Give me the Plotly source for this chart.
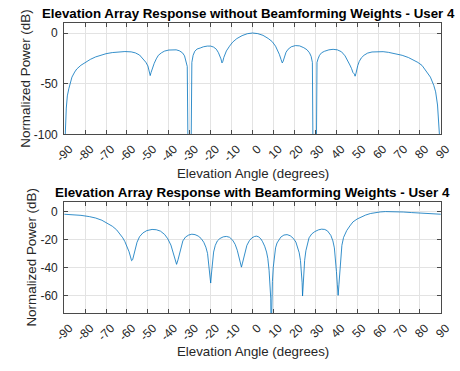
import plotly.graph_objects as go

# ---------------- data ----------------
angle_without = [
    -90.0, -89.5, -89.0, -88.5, -87.8, -87.0, -86.3, -85.0, -84.0, -82.0,
    -80.0, -77.5, -75.0, -72.5, -70.0, -67.0, -64.0, -61.0, -58.0, -56.0,
    -54.0, -52.5, -51.0, -50.0, -49.3, -48.9, -48.5, -47.9, -47.0, -46.0,
    -45.0, -43.5, -42.0, -40.0, -38.0, -36.5, -35.0, -33.5, -32.5, -31.8,
    -31.2, -30.7, -29.5, -29.0, -28.4, -27.6, -26.5, -25.0, -23.5, -21.6,
    -20.0, -18.6, -17.3, -16.3, -15.6, -15.1, -14.6, -14.2, -13.7, -13.0,
    -12.5, -11.0, -9.5, -7.5, -5.0, -2.5, 0.0, 2.5, 5.0, 7.5,
    9.4, 11.0, 12.0, 12.8, 13.6, 14.2, 14.6, 15.2, 16.0, 17.0,
    18.5, 20.5, 22.5, 24.5, 26.0, 27.2, 28.0, 28.6, 29.0, 30.4,
    30.8, 31.3, 32.0, 33.0, 34.4, 36.5, 38.5, 40.5, 42.5, 44.2,
    45.5, 46.5, 47.3, 48.0, 48.7, 49.0, 49.4, 49.8, 50.3, 51.0,
    52.0, 53.3, 55.0, 57.1, 60.0, 62.4, 65.0, 68.4, 71.5, 74.5,
    77.0, 79.0, 81.0, 83.5, 85.0, 86.6, 87.5, 88.4, 89.0, 89.3,
    90.0,
]
power_without = [
    -200, -100, -74, -62, -55, -48, -43.5, -38.5, -35.5, -31.8,
    -29, -26, -23.6, -21.8, -20.4, -19.3, -18.6, -18.3, -18.6, -19.6,
    -21.7, -24.8, -28.8, -32.5, -38, -42, -39, -35, -30, -25.5,
    -22, -19.5, -17.8, -16.8, -16.3, -16.6, -17.5, -19.5, -22.5, -27,
    -33, -150, -150, -29, -22, -18, -15.8, -14.8, -13.6, -12.9,
    -12.9, -13.9, -16, -19.4, -22.5, -25.5, -29.5, -28, -24, -19.5,
    -17.7, -13, -9, -5.5, -2.6, -0.7, 0, -0.6, -2.3, -5.4,
    -8.5, -13, -17, -21, -26, -29.5, -28, -23.5, -19, -16,
    -13.6, -12.4, -12.7, -14.5, -16.5, -19.5, -23, -29, -150, -150,
    -29, -25.5, -22, -19.5, -18, -16.6, -16.1, -16.6, -18.5, -22.5,
    -27, -31.5, -35, -39, -40.5, -42.6, -40, -35, -32, -28,
    -24.5, -21.9, -19.8, -18.7, -18.3, -18.4, -19.1, -20.3, -22, -24.2,
    -26.5, -29, -32, -38.7, -43.5, -51.6, -58, -71, -85, -100,
    -200,
]

angle_with = [
    -90.0, -86.0, -82.0, -78.0, -75.0, -72.0, -69.0, -67.0, -65.0, -63.5,
    -62.0, -61.0, -60.0, -59.0, -58.3, -57.8, -57.3, -56.7, -56.0, -55.2,
    -54.0, -52.4, -50.5, -48.0, -46.0, -44.0, -42.0, -40.5, -39.0, -38.0,
    -37.1, -36.3, -35.6, -35.0, -34.2, -33.3, -32.0, -30.5, -29.0, -27.5,
    -26.0, -24.6, -23.3, -22.3, -21.5, -20.8, -20.3, -20.0, -19.6, -19.2,
    -18.6, -17.8, -16.8, -15.6, -14.0, -12.5, -11.0, -9.5, -8.3, -7.3,
    -6.3, -5.6, -5.3, -4.9, -4.2, -3.4, -2.7, -1.5, -0.3, 1.0,
    2.0, 3.0, 4.0, 4.8, 5.8, 6.7, 7.3, 7.9, 8.3, 8.7,
    8.9, 9.2, 9.5, 9.9, 10.4, 11.0, 11.7, 12.4, 13.5, 15.0,
    16.5, 18.0, 19.5, 20.7, 21.5, 22.3, 22.9, 23.4, 23.7, 23.9,
    24.2, 24.5, 24.9, 25.5, 26.2, 27.0, 28.3, 29.8, 31.5, 33.0,
    34.5, 35.8, 37.4, 38.4, 39.1, 39.6, 40.1, 40.5, 40.9, 41.3,
    41.7, 42.2, 42.7, 43.5, 45.0, 46.5, 48.0, 50.0, 51.8, 54.0,
    56.3, 58.5, 61.0, 63.5, 66.0, 69.0, 72.0, 76.0, 80.0, 84.0,
    87.0, 90.0,
]
power_with = [
    -1.9, -2.1, -2.7, -3.6, -4.6, -6.2, -8.5, -10.5, -13.0, -15.5,
    -18.8, -21.5, -24.8, -28.8, -32.5, -35.2, -34.5, -31, -26.5, -22,
    -18, -15.3, -13.6, -12.8, -13.0, -14.0, -16.4, -19.5, -24.0, -28.5,
    -33.6, -37.8, -34.5, -30.5, -25, -21, -18.2, -16.8, -16.2, -16.5,
    -17.5, -19.2, -22, -25.5, -30, -38, -46, -51.2, -44, -36,
    -29, -24.2, -21, -19.3, -18.1, -17.8, -18.4, -20.5, -23.5, -27.7,
    -33, -38, -39.8, -37.5, -33.2, -28, -24.2, -20.8, -18.8, -17.8,
    -17.6, -18.2, -19.6, -21.6, -24.8, -29, -33.5, -42, -50, -62,
    -90, -62, -50, -40, -31, -26, -22.5, -20.5, -18.3, -16.8,
    -16.5, -17.3, -19.2, -21.8, -25, -29.5, -35, -43, -51, -60.5,
    -51, -43, -35, -28, -22.5, -18.8, -16, -14.3, -13.1, -12.6,
    -12.8, -13.8, -17, -21, -26, -33, -43, -52, -60, -52,
    -43, -32, -24.2, -18.5, -13.6, -10.3, -7.4, -5.3, -3.8, -2.5,
    -1.4, -0.8, -0.25, 0, 0, -0.05, -0.3, -0.7, -1.1, -1.5,
    -1.7, -1.9,
]

x_tick_vals = list(range(-90, 91, 10))
x_tick_text = [str(v) for v in x_tick_vals]
y1_tick_vals = [0, -50, -100]
y1_tick_text = ["0", "-50", "-100"]
y2_tick_vals = [0, -20, -40, -60]
y2_tick_text = ["0", "-20", "-40", "-60"]

title_top = "Elevation Array Response without Beamforming Weights - User 4"
title_bottom = "Elevation Array Response with Beamforming Weights - User 4"
x_label = "Elevation Angle (degrees)"
y_label = "Normalized Power (dB)"

# ---------------- styling ----------------
W, H = 460, 371
FONT = "Liberation Sans, Arial, Helvetica, sans-serif"
LINE_COLOR = "#0072BD"
AX_COLOR = "#4a4a4a"
TXT_COLOR = "#262626"
GRID_COLOR = "#e3e3e3"

x_dom = [56 / W, 452.5 / W]
y1_dom = [(H - 137) / H, (H - 23.3) / H]
y2_dom = [(H - 319.5) / H, (H - 205.7) / H]

fig = go.Figure()
fig.add_trace(go.Scatter(x=angle_without, y=power_without, mode="lines",
                         line=dict(color=LINE_COLOR, width=0.8),
                         xaxis="x", yaxis="y", showlegend=False))
fig.add_trace(go.Scatter(x=angle_with, y=power_with, mode="lines",
                         line=dict(color=LINE_COLOR, width=0.8),
                         xaxis="x2", yaxis="y2", showlegend=False))

common_x = dict(
    range=[-90, 90], tickmode="array", tickvals=x_tick_vals, ticktext=x_tick_text,
    tickangle=-45, ticks="inside", ticklen=4, tickcolor=AX_COLOR, tickwidth=1,
    showline=True, linecolor=AX_COLOR, linewidth=1, mirror="ticks",
    showgrid=True, gridcolor=GRID_COLOR, gridwidth=1, zeroline=False,
    tickfont=dict(family=FONT, size=12, color=TXT_COLOR),
    ticklabelshift=5, ticklabelstandoff=2, ticklabeloverflow="allow",
)
common_y = dict(
    ticks="inside", ticklen=4, tickcolor=AX_COLOR, tickwidth=1,
    showline=True, linecolor=AX_COLOR, linewidth=1, mirror="ticks",
    showgrid=True, gridcolor=GRID_COLOR, gridwidth=1, zeroline=False,
    tickfont=dict(family=FONT, size=12, color=TXT_COLOR),
    ticklabelstandoff=3,
)

fig.update_layout(
    width=W, height=H,
    margin=dict(l=0, r=0, t=0, b=0),
    paper_bgcolor="white", plot_bgcolor="white",
    xaxis=dict(domain=x_dom, anchor="y", **common_x),
    yaxis=dict(domain=y1_dom, anchor="x", range=[-100, 10], tickmode="array",
               tickvals=y1_tick_vals, ticktext=y1_tick_text, **common_y),
    xaxis2=dict(domain=x_dom, anchor="y2", **common_x),
    yaxis2=dict(domain=y2_dom, anchor="x2", range=[-73, 7], tickmode="array",
                tickvals=y2_tick_vals, ticktext=y2_tick_text, **common_y),
)

cx = (56 + 452.5) / 2 / W
ann = [
    dict(text="<b>%s</b>" % title_top, x=250.5 / W, y=1 - 14 / H,
         font=dict(family=FONT, size=13.3, color="black")),
    dict(text="<b>%s</b>" % title_bottom, x=cx, y=1 - 196 / H,
         font=dict(family=FONT, size=13.4, color="black")),
    dict(text=x_label, x=cx, y=1 - 176.5 / H,
         font=dict(family=FONT, size=13.3, color=TXT_COLOR)),
    dict(text=x_label, x=cx, y=1 - 358.3 / H,
         font=dict(family=FONT, size=13.3, color=TXT_COLOR)),
    dict(text=y_label, x=15 / W, y=1 - 80 / H, textangle=-90,
         font=dict(family=FONT, size=13.4, color=TXT_COLOR)),
    dict(text=y_label, x=22 / W, y=1 - 262.6 / H, textangle=-90,
         font=dict(family=FONT, size=13.4, color=TXT_COLOR)),
]
for a in ann:
    a.update(xref="paper", yref="paper", showarrow=False,
             xanchor="center", yanchor="middle")
fig.update_layout(annotations=ann)

fig.write_html("out.html")
